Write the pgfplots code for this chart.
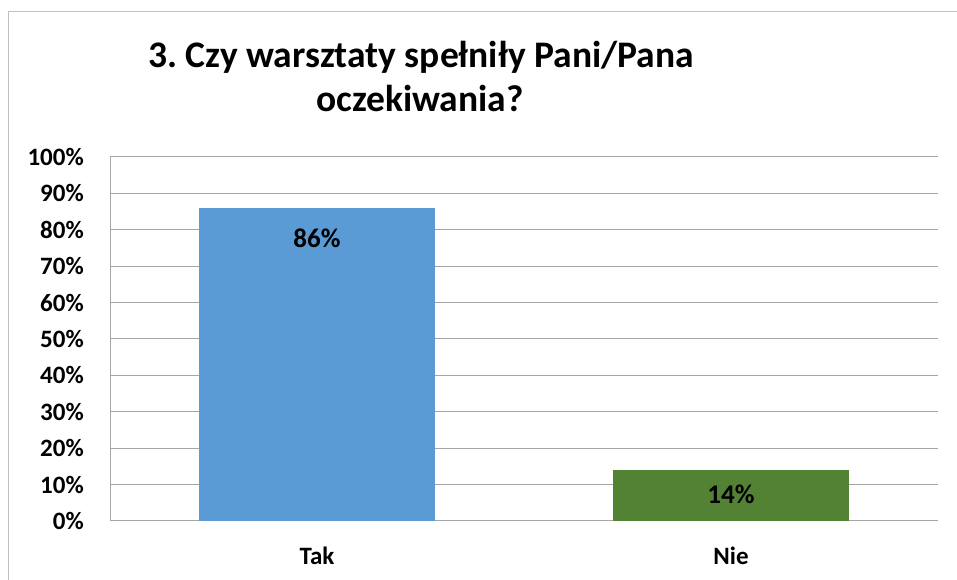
\documentclass[border=0pt]{standalone}
\usepackage{pgfplots}
\pgfplotsset{compat=1.18}
\usepackage{fontspec}
\setmainfont{Carlito}
\frenchspacing
\definecolor{takblue}{HTML}{5B9BD5}
\definecolor{niegreen}{HTML}{548235}
\definecolor{gridgray}{HTML}{A6A6A6}
\definecolor{framegray}{HTML}{BFBFBF}
\begin{document}
\begin{tikzpicture}[x=1pt,y=1pt]
\useasboundingbox (0,0) rectangle (957,580);
\fill[white] (0,0) rectangle (957,580);
\draw[framegray,line width=1pt] (8,0) -- (8,568) -- (957,568);
\node[font=\fontsize{37.5}{44}\selectfont\bfseries,anchor=base] at (421,512) {3. Czy warsztaty spełniły Pani/Pana};
\node[font=\fontsize{37.5}{44}\selectfont\bfseries,anchor=base] at (420,468) {oczekiwania?};
\begin{axis}[
  at={(110pt,59pt)}, anchor=south west,
  scale only axis, width=828pt, height=364pt,
  xmin=-0.5, xmax=1.5, ymin=0, ymax=100,
  ybar, bar width=236pt,
  xtick={0,1}, xticklabels={Tak,Nie},
  ytick={0,10,...,100},
  yticklabel={\pgfmathprintnumber{\tick}\%},
  /pgf/number format/assume math mode=true,
  tick label style={font=\fontsize{25}{30}\selectfont\bfseries},
  yticklabel style={inner sep=0pt, anchor=east, xshift=-26pt},
  xticklabel style={inner sep=0pt, anchor=north, yshift=-26pt},
  major tick length=0pt,
  ymajorgrids, grid style={gridgray, line width=1pt},
  axis x line*=bottom, axis y line*=left,
  axis line style={gridgray, line width=1pt},
  x axis line style={-}, y axis line style={-},
  nodes near coords={\pgfmathprintnumber{\pgfplotspointmeta}\%},
  every node near coord/.append style={font=\fontsize{27}{32}\selectfont\bfseries, black, anchor=center},
  clip=false,
]
\addplot[fill=takblue, draw=none, bar shift=0pt,
  every node near coord/.append style={yshift=-30pt}] coordinates {(0,86)};
\addplot[fill=niegreen, draw=none, bar shift=0pt,
  every node near coord/.append style={yshift=-24pt}] coordinates {(1,14)};
\end{axis}
\end{tikzpicture}
\end{document}
